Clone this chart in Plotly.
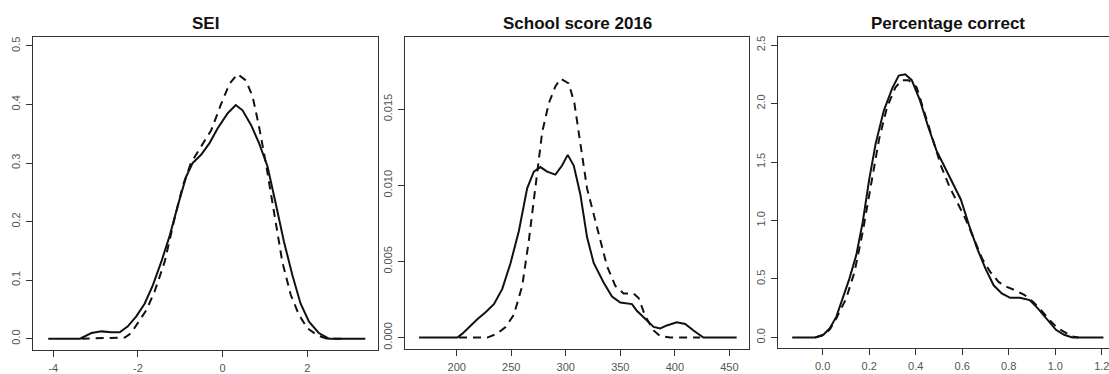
import plotly.graph_objects as go

# ---------------- data ----------------
# Panel 1: SEI
sei_solid_x = [-4.12, -3.37, -3.10, -2.86, -2.63, -2.43, -2.24, -2.04, -1.84, -1.65, -1.45, -1.25, -1.06,
               -0.86, -0.71, -0.51, -0.31, -0.12, 0.12, 0.31, 0.47, 0.67, 0.86, 1.06, 1.25, 1.45, 1.65,
               1.84, 2.04, 2.27, 2.51, 3.37]
sei_solid_y = [0, 0, 0.0096, 0.0124, 0.011, 0.011, 0.021, 0.038, 0.060, 0.091, 0.131, 0.176, 0.227,
               0.277, 0.300, 0.314, 0.334, 0.359, 0.385, 0.399, 0.390, 0.365, 0.334, 0.294, 0.232, 0.165, 0.108,
               0.060, 0.029, 0.0096, 0, 0]
sei_dash_x = [-3.33, -2.31, -2.16, -2.00, -1.80, -1.61, -1.37, -1.14, -0.94, -0.75, -0.51, -0.27, -0.04,
              0.16, 0.35, 0.55, 0.71, 0.86, 1.02, 1.22, 1.41, 1.61, 1.80, 2.00, 2.24, 2.47, 2.9]
sei_dash_y = [0, 0.002, 0.0096, 0.0265, 0.049, 0.080, 0.131, 0.204, 0.261, 0.300, 0.328, 0.356, 0.400,
              0.435, 0.452, 0.441, 0.413, 0.362, 0.300, 0.215, 0.131, 0.0745, 0.041, 0.018, 0.0056, 0, 0]

# Panel 2: School score 2016
sch_solid_x = [165.5, 200.6, 205.2, 212.8, 218.9, 226.5, 234.1, 241.8, 249.4, 257.0, 264.6, 270.7, 276.8,
               282.9, 290.5, 296.6, 301.8, 307.3, 313.4, 319.5, 325.6, 334.8, 342.4, 350.0, 360.7, 365.2,
               372.9, 380.5, 386.6, 392.7, 401.8, 409.5, 417.1, 426.2, 456.7]
sch_solid_y = [0, 0, 0.00026, 0.0008, 0.0012, 0.00166, 0.0022, 0.0032, 0.0049, 0.0070, 0.0098, 0.0109, 0.0112,
               0.0109, 0.0107, 0.0113, 0.0120, 0.0113, 0.0094, 0.0066, 0.0049, 0.0036, 0.0027, 0.0023, 0.0022, 0.00176,
               0.0012, 0.0007, 0.0006, 0.0008, 0.0010, 0.0009, 0.00047, 0, 0]
sch_dash_x = [202.1, 228.0, 237.2, 244.8, 252.4, 260.1, 266.2, 272.3, 278.4, 284.5, 290.5, 295.1, 302.7,
              307.9, 313.4, 319.5, 325.6, 331.7, 337.8, 345.4, 353.0, 362.2, 366.8, 372.9, 380.5, 386.6,
              395.7, 423.2]
sch_dash_y = [0, 0, 0.00026, 0.0007, 0.0015, 0.0034, 0.0064, 0.0098, 0.0135, 0.0154, 0.0165, 0.0170, 0.0167,
              0.0154, 0.0128, 0.0098, 0.0081, 0.0064, 0.0047, 0.0034, 0.0029, 0.0029, 0.0026, 0.0014, 0.00047, 0.0001,
              0, 0]

# Panel 3: Percentage correct
pc_solid_x = [-0.131, -0.032, 0.003, 0.031, 0.059, 0.087, 0.115, 0.144, 0.172, 0.200, 0.228, 0.263, 0.299,
              0.327, 0.355, 0.383, 0.418, 0.454, 0.489, 0.524, 0.559, 0.594, 0.630, 0.665, 0.700, 0.735,
              0.770, 0.806, 0.848, 0.890, 0.925, 0.961, 1.003, 1.038, 1.073, 1.207]
pc_solid_y = [0, 0, 0.023, 0.079, 0.178, 0.333, 0.503, 0.70, 0.983, 1.35, 1.66, 1.94, 2.13,
              2.24, 2.25, 2.20, 2.03, 1.80, 1.60, 1.46, 1.32, 1.18, 0.955, 0.757, 0.588, 0.446,
              0.376, 0.339, 0.339, 0.319, 0.249, 0.164, 0.065, 0.023, 0, 0]
pc_dash_x = [-0.032, 0.003, 0.031, 0.059, 0.101, 0.137, 0.172, 0.207, 0.242, 0.277, 0.313, 0.341, 0.369,
             0.404, 0.439, 0.475, 0.510, 0.545, 0.580, 0.615, 0.651, 0.686, 0.721, 0.756, 0.792, 0.827,
             0.869, 0.904, 0.939, 0.975, 1.010, 1.045, 1.073, 1.100]
pc_dash_y = [0, 0.02, 0.07, 0.164, 0.333, 0.56, 0.90, 1.29, 1.69, 1.97, 2.14, 2.20, 2.20,
             2.14, 1.92, 1.69, 1.46, 1.29, 1.15, 1.01, 0.84, 0.672, 0.559, 0.475, 0.432, 0.404,
             0.362, 0.305, 0.234, 0.150, 0.079, 0.037, 0.008, 0]

titles = ["SEI", "School score 2016", "Percentage correct"]
sei_xticks = [-4, -2, 0, 2]
sei_xlabels = ["-4", "-2", "0", "2"]
sei_yticks = [0.0, 0.1, 0.2, 0.3, 0.4, 0.5]
sei_ylabels = ["0.0", "0.1", "0.2", "0.3", "0.4", "0.5"]
sch_xticks = [200, 250, 300, 350, 400, 450]
sch_xlabels = ["200", "250", "300", "350", "400", "450"]
sch_yticks = [0.000, 0.005, 0.010, 0.015]
sch_ylabels = ["0.000", "0.005", "0.010", "0.015"]
pc_xticks = [0.0, 0.2, 0.4, 0.6, 0.8, 1.0, 1.2]
pc_xlabels = ["0.0", "0.2", "0.4", "0.6", "0.8", "1.0", "1.2"]
pc_yticks = [0.0, 0.5, 1.0, 1.5, 2.0, 2.5]
pc_ylabels = ["0.0", "0.5", "1.0", "1.5", "2.0", "2.5"]

# ---------------- figure ----------------
W, H = 1109, 374
LINE = "#111111"
FRAME = "#333333"
TICKFONT = dict(family="Liberation Sans, Arial, sans-serif", size=11, color="#555555")

fig = go.Figure()

panels = [
    (sei_solid_x, sei_solid_y, sei_dash_x, sei_dash_y),
    (sch_solid_x, sch_solid_y, sch_dash_x, sch_dash_y),
    (pc_solid_x, pc_solid_y, pc_dash_x, pc_dash_y),
]
for i, (sx, sy, dx, dy) in enumerate(panels):
    sfx = "" if i == 0 else str(i + 1)
    fig.add_trace(go.Scatter(x=dx, y=dy, mode="lines", xaxis="x" + sfx, yaxis="y" + sfx,
                             line=dict(color=LINE, width=2, dash="8px,6px"), showlegend=False,
                             hoverinfo="skip"))
    fig.add_trace(go.Scatter(x=sx, y=sy, mode="lines", xaxis="x" + sfx, yaxis="y" + sfx,
                             line=dict(color=LINE, width=2), showlegend=False, hoverinfo="skip"))

def px_x(p):
    return p / W

def px_y(p):
    return (H - p) / H

axis_common = dict(showgrid=False, zeroline=False, showline=True, linecolor=FRAME, linewidth=1,
                   ticks="outside", ticklen=6, tickcolor=FRAME, tickwidth=1, tickfont=TICKFONT,
                   ticklabeloverflow="allow")

# panel geometry in pixels: (left, right, top, bottom)
geo = [(33, 378, 36, 352), (405, 749, 36, 351), (778, 1109, 36, 350)]
xranges = [[-4.48, 3.67], [152.6, 468.0], [-0.192, 1.231]]
yranges = [[-0.0197, 0.5157], [-0.00076, 0.01976], [-0.092, 2.572]]
xtick_sets = [(sei_xticks, sei_xlabels), (sch_xticks, sch_xlabels), (pc_xticks, pc_xlabels)]
ytick_sets = [(sei_yticks, sei_ylabels), (sch_yticks, sch_ylabels), (pc_yticks, pc_ylabels)]

layout = {}
for i in range(3):
    l, r, t, b = geo[i]
    sfx = "" if i == 0 else str(i + 1)
    xa = dict(axis_common)
    xa.update(domain=[px_x(l), min(1.0, px_x(r))], range=xranges[i], anchor="y" + sfx,
              tickvals=xtick_sets[i][0], ticktext=xtick_sets[i][1], mirror=True, ticklabelstandoff=2)
    ya = dict(axis_common)
    ya.update(domain=[px_y(b), px_y(t)], range=yranges[i], anchor="x" + sfx,
              tickvals=ytick_sets[i][0], ticktext=ytick_sets[i][1], tickangle=-90,
              mirror=(i < 2), ticklabelstandoff=2)
    layout["xaxis" + sfx] = xa
    layout["yaxis" + sfx] = ya

fig.update_layout(**layout)

title_centers = [205.5, 577, 948]
for txt, cx in zip(titles, title_centers):
    fig.add_annotation(text="<b>%s</b>" % txt, x=cx / W, y=px_y(23), xref="paper", yref="paper",
                       showarrow=False, xanchor="center", yanchor="middle",
                       font=dict(family="Liberation Sans, Arial, sans-serif", size=17, color="#111111"))

fig.update_layout(width=W, height=H, margin=dict(l=0, r=0, t=0, b=0),
                  paper_bgcolor="white", plot_bgcolor="white")

fig.write_html("out.html", config={"displayModeBar": False},
               post_script="document.body.style.margin='0px';")
